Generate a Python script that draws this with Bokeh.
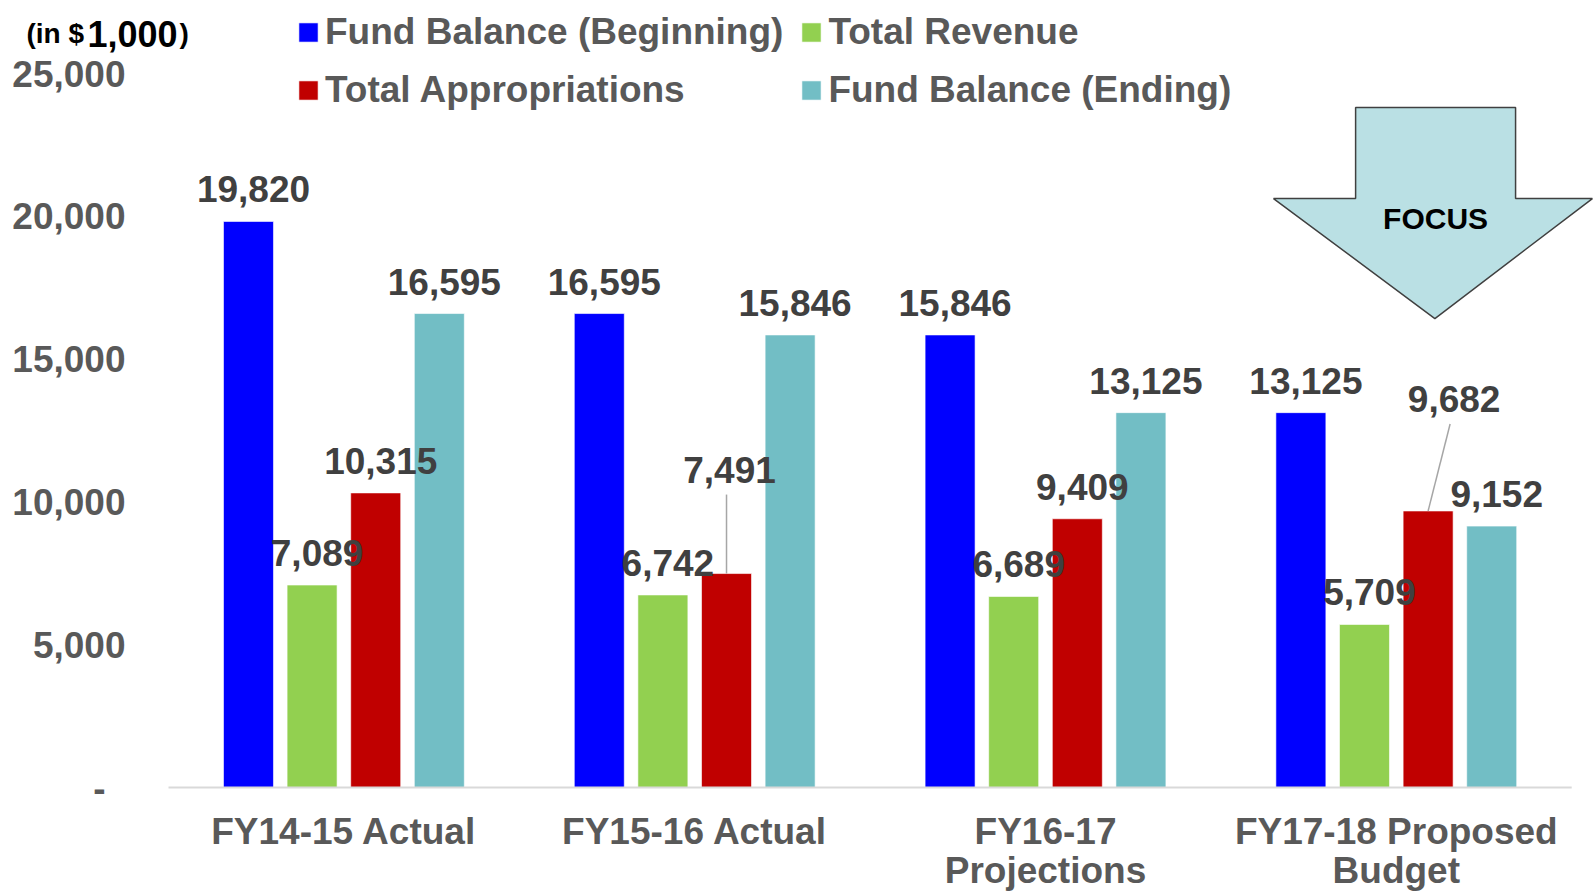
from bokeh.plotting import figure
from bokeh.models import ColumnDataSource, Range1d, Label, Legend, LegendItem
from bokeh.core.properties import value
from bokeh.embed import file_html
from bokeh.resources import INLINE

# ---------------- data ----------------
categories = ["FY14-15 Actual", "FY15-16 Actual", "FY16-17\nProjections", "FY17-18 Proposed\nBudget"]
series_names = ["Fund Balance (Beginning)", "Total Revenue", "Total Appropriations", "Fund Balance (Ending)"]
fund_beginning = [19820, 16595, 15846, 13125]
total_revenue = [7089, 6742, 6689, 5709]
total_appropriations = [10315, 7491, 9409, 9682]
fund_ending = [16595, 15846, 13125, 9152]
y_ticks = [0, 5000, 10000, 15000, 20000, 25000]
y_tick_labels = ["-", "5,000", "10,000", "15,000", "20,000", "25,000"]
unit_note = ["(in $", "1,000", ")"]
focus_text = "FOCUS"

# ---------------- style / layout ----------------
FONT = "Liberation Sans"
colors = ["#0000FF", "#92D050", "#C00000", "#72BEC5"]
series_values = [fund_beginning, total_revenue, total_appropriations, fund_ending]

W, H = 1593, 893
PX_PER_X = 350.8                      # one category slot in px
ZERO_X = 168                          # px from figure left to x=0
ZERO_Y = 787                          # px from figure top to y=0
Y_PER_PX = 25000 / 714.0
x_start = -ZERO_X / PX_PER_X
x_end = x_start + W / PX_PER_X
y_end = ZERO_Y * Y_PER_PX
y_start = -(H - ZERO_Y) * Y_PER_PX

def page_x(px):
    return (px - ZERO_X) / PX_PER_X

def page_y(py):
    return (ZERO_Y - py) * Y_PER_PX

p = figure(width=W, height=H, output_backend="svg", toolbar_location=None,
           x_range=Range1d(x_start, x_end), y_range=Range1d(y_start, y_end),
           x_axis_location=None, y_axis_location=None,
           min_border_left=0, min_border_right=0, min_border_top=0, min_border_bottom=0)
p.xgrid.visible = False
p.ygrid.visible = False
p.outline_line_color = None
p.background_fill_color = "white"
p.border_fill_color = "white"

bar_w = 50 / PX_PER_X
offsets = [-0.272, -0.0907, 0.0907, 0.272]

renderers = []
label_sources = []
for j, (vals, col) in enumerate(zip(series_values, colors)):
    xs = [i + 0.5 + offsets[j] for i in range(len(categories))]
    lx_off = [5] * len(vals)
    ly_off = [-32] * len(vals)
    if j == 2:
        lx_off[1], ly_off[1] = 3, -104
        lx_off[3], ly_off[3] = 26, -112
    src = ColumnDataSource(dict(x=xs, top=vals, label=[f"{v:,}" for v in vals],
                                xo=lx_off, yo=ly_off))
    r = p.vbar(x="x", top="top", bottom=0, width=bar_w, source=src,
               fill_color=col, line_color="white", line_alpha=0.6, line_width=1)
    renderers.append(r)
    label_sources.append(src)

# baseline (category axis line)
p.segment(x0=[0], y0=[0], x1=[len(categories)], y1=[0], line_color="#D9D9D9", line_width=2)

# leader lines for the two displaced appropriation labels
app_x = [i + 0.5 + offsets[2] for i in range(len(categories))]
idx = [1, 3]
dxs = [0, 22]
dys = [79, 87]
p.segment(x0=[app_x[i] for i in idx], y0=[total_appropriations[i] for i in idx],
          x1=[app_x[i] + dx / PX_PER_X for i, dx in zip(idx, dxs)],
          y1=[total_appropriations[i] + dy * Y_PER_PX for i, dy in zip(idx, dys)],
          line_color="#A6A6A6", line_width=1.5)

# data labels (drawn after all bars)
for src in label_sources:
    p.text(x="x", y="top", text="label", source=src, x_offset="xo", y_offset="yo",
           text_align="center", text_baseline="middle",
           text_font=value(FONT), text_font_style="bold", text_font_size="37px",
           text_color="#404040")

# value-axis tick labels
ysrc = ColumnDataSource(dict(x=[page_x(125)] * len(y_ticks), y=y_ticks, t=y_tick_labels,
                             xo=[-20 if v == 0 else 0 for v in y_ticks]))
p.text(x="x", y="y", text="t", source=ysrc, x_offset="xo", text_align="right",
       text_baseline="middle", text_font=value(FONT), text_font_style="bold",
       text_font_size="37px", text_color="#595959")

# category tick labels (two lines where wrapped)
line1 = [c.split("\n")[0] for c in categories]
line2 = [c.split("\n")[1] if "\n" in c else "" for c in categories]
cx = [i + 0.5 for i in range(len(categories))]
for lines, off in [(line1, 44), (line2, 83)]:
    p.text(x=cx, y=[0] * len(cx), text=lines, y_offset=off, text_align="center",
           text_baseline="middle", text_font=value(FONT), text_font_style="bold",
           text_font_size="37px", text_color="#595959")

# FOCUS arrow (annotation shape)
arrow_x = [3.384, 3.840, 3.840, 4.059, 3.610, 3.150, 3.384]
arrow_y = [23807, 23807, 20621, 20621, 16420, 20621, 20621]
p.patch(arrow_x, arrow_y, fill_color="#BAE0E4", line_color="#404040", line_width=1.5)
p.text(x=[3.612], y=[19923], text=[focus_text], text_align="center", text_baseline="middle",
       text_font=value(FONT), text_font_style="bold", text_font_size="30px", text_color="black")

# unit note
ux = page_x(26)
uy = page_y(33)
for txt, off, size in zip(unit_note, [0, 61, 153], ["28px", "36px", "28px"]):
    p.add_layout(Label(x=ux, y=uy, x_offset=off, text=txt, text_align="left",
                       text_baseline="alphabetic", text_font=FONT, text_font_style="bold",
                       text_font_size=size, text_color="black"))

# legend
legend = Legend(items=[LegendItem(label=n, renderers=[r]) for n, r in zip(series_names, renderers)],
                location=(296, 782), orientation="horizontal", ncols=2,
                glyph_width=24, glyph_height=24, label_standoff=5, label_width=454,
                spacing=16, padding=0, margin=0,
                label_text_font=FONT, label_text_font_style="bold", label_text_font_size="37px",
                label_text_color="#595959", background_fill_alpha=0, border_line_color=None)
p.add_layout(legend)

open("out.html", "w").write(file_html(p, INLINE))
